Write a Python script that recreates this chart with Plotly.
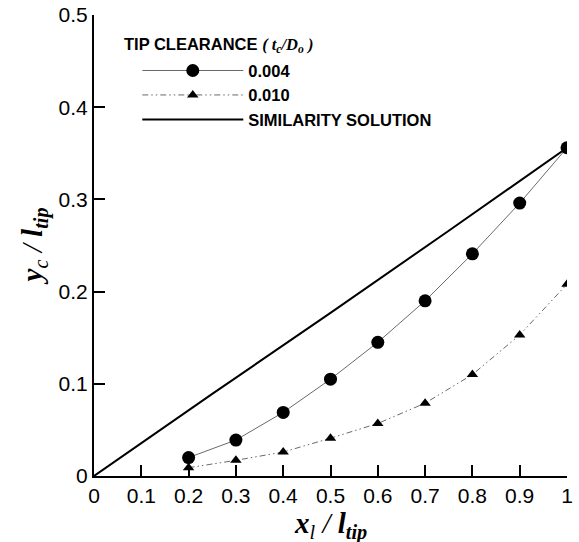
import plotly.graph_objects as go

# Non-dimensional streamwise position along the tip
x_pos = [0.2, 0.3, 0.4, 0.5, 0.6, 0.7, 0.8, 0.9, 1.0]

# Vortex centre height for two tip clearances
yc_0004 = [0.020, 0.039, 0.069, 0.105, 0.145, 0.190, 0.241, 0.296, 0.356]
yc_0010 = [0.009, 0.017, 0.026, 0.041, 0.057, 0.079, 0.110, 0.153, 0.208]

# Similarity solution
x_sim = [0.0, 0.25, 0.5, 0.75, 1.0]
y_sim = [0.0, 0.089, 0.177, 0.266, 0.356]

x_ticks = [0, 0.1, 0.2, 0.3, 0.4, 0.5, 0.6, 0.7, 0.8, 0.9, 1]
x_tick_text = ["0", "0.1", "0.2", "0.3", "0.4", "0.5", "0.6", "0.7", "0.8", "0.9", "1"]
y_ticks = [0, 0.1, 0.2, 0.3, 0.4, 0.5]
y_tick_text = ["0", "0.1", "0.2", "0.3", "0.4", "0.5"]

SANS = "Liberation Sans, Arial, sans-serif"
SERIF = "Liberation Serif, Times New Roman, serif"

fig = go.Figure()

fig.add_trace(go.Scatter(
    x=x_pos, y=yc_0004, name="<b>0.004</b>", mode="lines+markers",
    line=dict(color="#6a6a6a", width=1),
    marker=dict(symbol="circle", size=13, color="black"),
))
fig.add_trace(go.Scatter(
    x=x_pos, y=yc_0010, name="<b>0.010</b>", mode="lines+markers",
    line=dict(color="#6a6a6a", width=1, dash="6px,3px,1.5px,3px,1.5px,3px"),
    marker=dict(symbol="triangle-up", size=10, color="black"),
))
fig.add_trace(go.Scatter(
    x=x_sim, y=y_sim, name="<b>SIMILARITY SOLUTION</b>", mode="lines",
    line=dict(color="black", width=2),
))

axis_common = dict(
    showgrid=False, zeroline=False, showline=True, linecolor="black", linewidth=2,
    ticks="inside", ticklen=11, tickwidth=2, tickcolor="black",
    tickfont=dict(family=SANS, size=21, color="black"),
    mirror=False,
)

fig.update_xaxes(range=[0, 1], tickvals=x_ticks, ticktext=x_tick_text, **axis_common)
fig.update_yaxes(range=[0, 0.5], tickvals=y_ticks, ticktext=y_tick_text, **axis_common)

# Axis titles
title_font = dict(family=SERIF, size=29, color="black")
fig.add_annotation(
    xref="paper", yref="paper", x=0.5, y=-0.107, xanchor="center", yanchor="middle",
    text="<i><b>x</b><sub>l</sub> / <b>l</b><sub><b>tip</b></sub></i>",
    showarrow=False, font=title_font,
)
fig.add_annotation(
    xref="paper", yref="paper", x=-0.125, y=0.5, xanchor="center", yanchor="middle",
    text="<i><b>y</b><sub>c</sub> / <b>l</b><sub><b>tip</b></sub></i>",
    showarrow=False, font=title_font, textangle=-90,
)

# Legend heading
fig.add_annotation(
    xref="paper", yref="paper", x=0.059, y=0.935, xanchor="left", yanchor="middle",
    text=("<b>TIP CLEARANCE</b> <span style=\"font-family:Liberation Serif\">"
          "<i><b>( t<sub>c</sub>/D<sub>o</sub> )</b></i></span>"),
    showarrow=False, font=dict(family=SANS, size=16.5, color="black"),
)

fig.update_layout(
    width=579, height=542,
    margin=dict(l=94, r=12, t=15, b=66, autoexpand=False),
    paper_bgcolor="white", plot_bgcolor="white",
    showlegend=True,
    legend=dict(
        x=0.0915, y=0.917, xanchor="left", yanchor="top",
        bgcolor="rgba(0,0,0,0)", borderwidth=0,
        font=dict(family=SANS, size=16.5, color="black"),
        itemwidth=101, tracegroupgap=0,
    ),
)

fig.write_html("out.html")
